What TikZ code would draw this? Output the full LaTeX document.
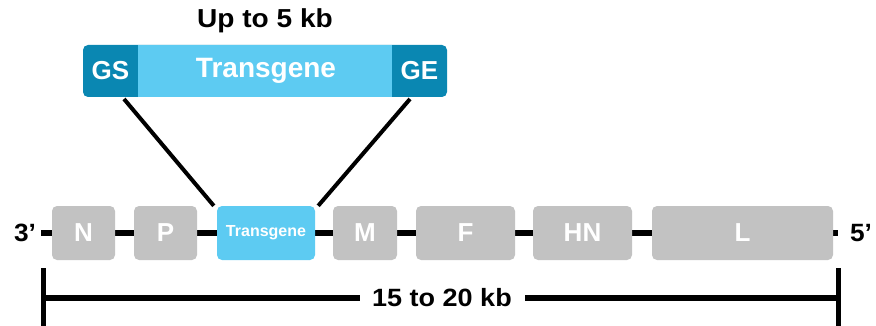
\documentclass[tikz,border=0pt]{standalone}
\usepackage{fontspec}
\setmainfont{Liberation Sans}
\definecolor{gbox}{HTML}{C2C2C2}
\definecolor{tblue}{HTML}{5DCBF2}
\definecolor{tdark}{HTML}{0A87B2}
\begin{document}
\begin{tikzpicture}[x=1pt,y=-1pt,
  gene/.style={fill=gbox, rounded corners=5pt, text=white, font=\bfseries\fontsize{26}{28}\selectfont},
  lbl/.style={font=\bfseries\fontsize{25}{27}\selectfont, text=black, inner sep=0pt},
  toptxt/.style={text=white, font=\bfseries\fontsize{26}{28}\selectfont},
  bar/.style={line width=6.5pt}]
\useasboundingbox (0,0) rectangle (876,326);
% top box
\fill[tdark, rounded corners=5pt] (83,45) rectangle (447,97);
\fill[tblue] (138,45) rectangle (392,97);
\node[lbl, font=\bfseries\fontsize{26}{28}\selectfont, xscale=1.08] (up) at (265,21) {Up to 5 kb};
\node[toptxt] (gs) at (110.5,71) {GS};
\node[toptxt, font=\bfseries\fontsize{28}{30}\selectfont] (tg) at (266,71) {Transgene};
\node[toptxt] (ge) at (419.5,71) {GE};
\coordinate (tl) at (124,99);
\coordinate (tr) at (410,99);
% backbone
\node[lbl, xscale=1.05] (three) at (25,233) {3’};
\node[lbl, xscale=1.05] (five) at (861,233) {5’};
\draw[bar] (41,233) -- (838,233);
\node[gene, minimum width=63pt, minimum height=54pt] (N) at (83.5,233) {N};
\node[gene, minimum width=63pt, minimum height=54pt] (P) at (165.5,233) {P};
\node[gene, fill=tblue, minimum width=98pt, minimum height=54pt, font=\bfseries\fontsize{16}{18}\selectfont] (T) at (266,233) {Transgene};
\node[gene, minimum width=64pt, minimum height=54pt] (M) at (365,233) {M};
\node[gene, minimum width=99pt, minimum height=54pt] (F) at (465.5,233) {F};
\node[gene, minimum width=99pt, minimum height=54pt] (HN) at (582.5,233) {HN};
\node[gene, minimum width=181pt, minimum height=54pt] (L) at (742.5,233) {L};
\draw[line width=4pt] (tl) -- ([xshift=-3pt]T.north west);
\draw[line width=4pt] (tr) -- ([xshift=3pt]T.north east);
% scale bar
\coordinate (a1) at (43,268); \coordinate (a2) at (43,326);
\coordinate (b1) at (838,268); \coordinate (b2) at (838,326);
\node[lbl, xscale=1.08] (len) at (442,298) {15 to 20 kb};
\draw[line width=5pt] (a1) -- (a2);
\draw[line width=5pt] (b1) -- (b2);
\draw[bar] (43,298) -- (360,298);
\draw[bar] (525,298) -- (838,298);
\end{tikzpicture}
\end{document}
